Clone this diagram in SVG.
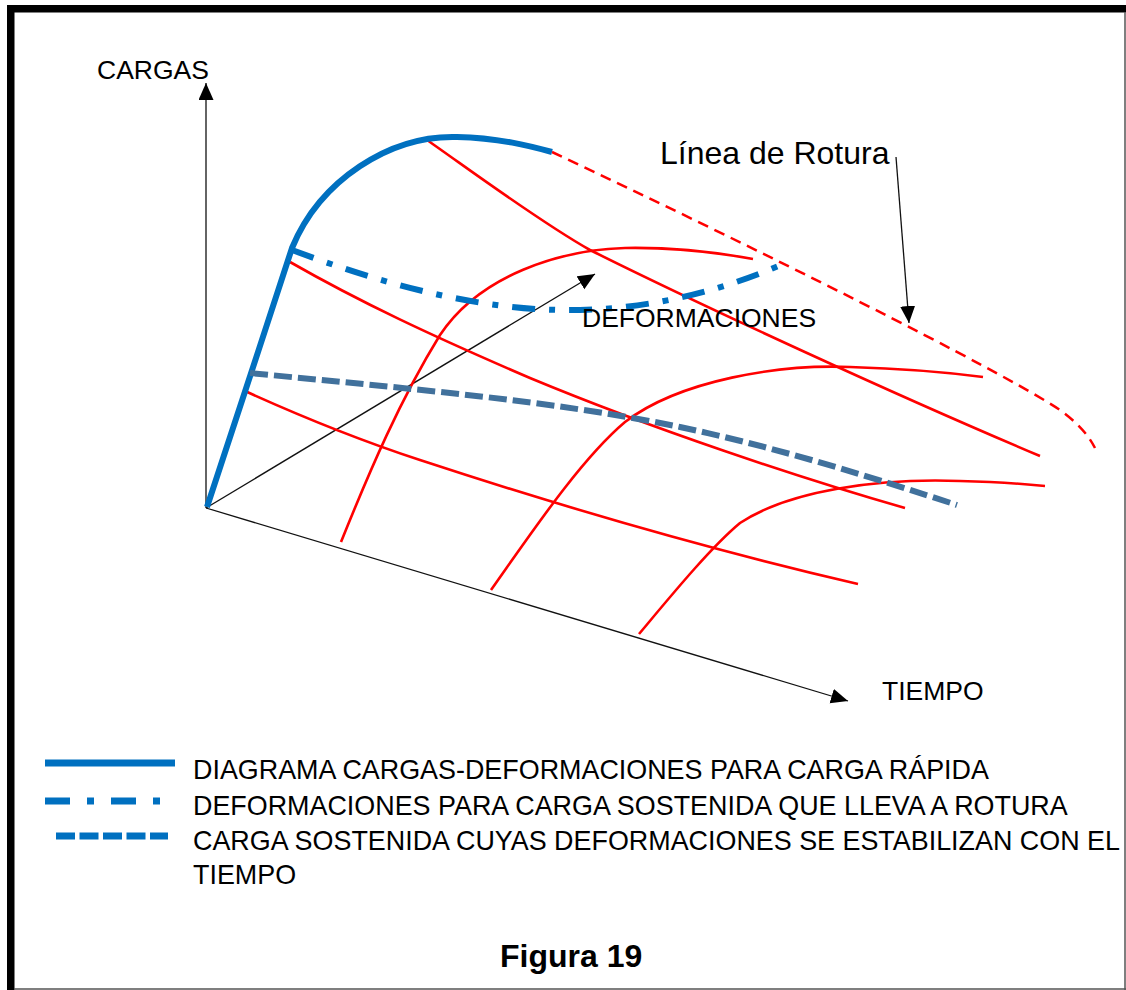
<svg xmlns="http://www.w3.org/2000/svg" width="1126" height="990" viewBox="0 0 1126 990">
  <style>
    text { font-family: "Liberation Sans", Arial, sans-serif; fill: #000; }
    .lbl { font-size: 26.5px; }
    .leg { font-size: 26.9px; }
    .axis { stroke: #111; stroke-width: 1.3; fill: none; }
    .red { stroke: #FF0000; stroke-width: 2.6; fill: none; stroke-linecap: butt; }
    .rupt { stroke: #FF0000; stroke-width: 2.5; fill: none; stroke-dasharray: 11 7; }
    .fast { stroke: #0070C0; stroke-width: 6; fill: none; stroke-linecap: butt; }
    .dashdot { stroke: #0070C0; stroke-width: 6; fill: none; stroke-dasharray: 23 14 6 14; }
    .stable { stroke: #41719C; stroke-width: 6; fill: none; stroke-dasharray: 18 6; }
  </style>
  <defs>
    <marker id="arr" markerUnits="userSpaceOnUse" markerWidth="18" markerHeight="16" refX="17" refY="7.5" orient="auto">
      <path d="M0,0 L17,7.5 L0,15 z" fill="#000"/>
    </marker>
  </defs>

  <rect width="1126" height="990" fill="#fff"/>

  <g id="frame">
    <rect x="7" y="5" width="1119" height="7.5" fill="#000"/>
    <rect x="7" y="5" width="7.5" height="985" fill="#000"/>
    <line x1="1125" y1="12" x2="1125" y2="990" stroke="#555" stroke-width="1.5"/>
    <line x1="14" y1="989" x2="1126" y2="989" stroke="#555" stroke-width="1.5"/>
  </g>

  <g id="connectors">
    <line id="axis-cargas" class="axis" x1="206" y1="508" x2="206" y2="83" marker-end="url(#arr)"/>
    <line id="axis-tiempo" class="axis" x1="206" y1="508" x2="848" y2="701" marker-end="url(#arr)"/>
    <line id="axis-deformaciones" class="axis" x1="206" y1="508" x2="595" y2="274" marker-end="url(#arr)"/>
    <line id="leader-rotura" class="axis" x1="896" y1="157" x2="909" y2="323" marker-end="url(#arr)"/>
  </g>

  <g id="surface-lines">
    <path class="red" d="M427,140 C470,170 540,222 590,250 C700,305 900,397 1040,456"/>
    <path class="red" d="M290,262 C360,302 430,335 530,378 C650,428 800,478 905,508"/>
    <path class="red" d="M245,391 C300,416 350,437 420,460 C560,506 720,552 858,584"/>
    <path class="red" d="M341,542 C370,470 400,400 440,335 C480,275 560,250 625,248 C680,247 720,253 753,259"/>
    <path class="red" d="M491,590 C530,535 580,460 625,422 C680,380 780,364 850,367 C920,369 960,374 983,377"/>
    <path class="red" d="M639,634 C670,597 710,548 740,523 C790,490 880,478 960,481 C1000,482 1025,484 1045,486"/>
  </g>

  <g id="rupture-line">
    <path class="rupt" d="M552,152 C750,245 1000,370 1060,410 Q1085,428 1095,448"/>
  </g>

  <g id="fast-load-curve">
    <path class="fast" d="M207,507 C228,445 265,330 292,248 C320,180 390,135 457,137 C500,138 530,146 552,152"/>
  </g>

  <g id="sustained-rupture-curve">
    <path class="dashdot" d="M292,250 C380,283 480,312 580,310 C655,308 725,290 790,261"/>
  </g>

  <g id="sustained-stable-curve">
    <path class="stable" d="M250,373 C400,388 550,400 680,427 C780,448 880,480 957,505"/>
  </g>

  <g id="labels">
    <text id="lbl-cargas" class="lbl" x="97" y="79">CARGAS</text>
    <text id="lbl-rotura" x="660" y="164" font-size="32">Línea de Rotura</text>
    <text id="lbl-deformaciones" class="lbl" x="582" y="327">DEFORMACIONES</text>
    <text id="lbl-tiempo" class="lbl" x="882" y="700">TIEMPO</text>
  </g>

  <g id="legend">
    <g id="legend-fast">
      <line x1="45" y1="763" x2="175" y2="763" stroke="#0070C0" stroke-width="7"/>
      <text class="leg" x="193" y="778.5">DIAGRAMA CARGAS-DEFORMACIONES PARA CARGA RÁPIDA</text>
    </g>
    <g id="legend-rupture">
      <line x1="45" y1="801" x2="161" y2="801" stroke="#0070C0" stroke-width="7" stroke-dasharray="25 17 7 17"/>
      <text class="leg" x="193" y="814.5">DEFORMACIONES PARA CARGA SOSTENIDA QUE LLEVA A ROTURA</text>
    </g>
    <g id="legend-stable">
      <line x1="56" y1="836" x2="168" y2="836" stroke="#0070C0" stroke-width="7" stroke-dasharray="19 4.5"/>
      <text class="leg" x="193" y="849.5">CARGA SOSTENIDA CUYAS DEFORMACIONES SE ESTABILIZAN CON EL</text>
      <text class="leg" x="193" y="883.5">TIEMPO</text>
    </g>
  </g>

  <g id="caption">
    <text x="500" y="967" font-size="32" font-weight="bold">Figura 19</text>
  </g>
</svg>
